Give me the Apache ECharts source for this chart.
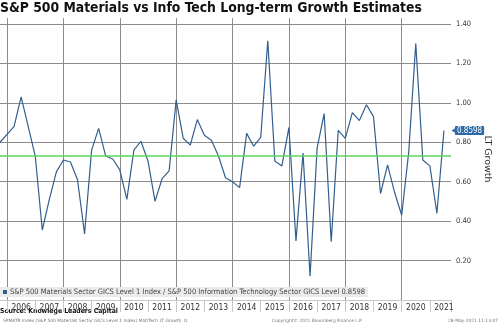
<!DOCTYPE html>
<html><head><meta charset="utf-8">
<script src="https://cdn.jsdelivr.net/npm/echarts@6/dist/echarts.min.js"></script>
<style>html,body{margin:0;padding:0;background:#fff}#c{width:500px;height:325px}</style>
</head><body><div id="c"></div>
<script>
// Quarter-end categories (last one only extends the axis)
const quarters = [
 '2005Q3','2005Q4',
 '2006Q1','2006Q2','2006Q3','2006Q4',
 '2007Q1','2007Q2','2007Q3','2007Q4',
 '2008Q1','2008Q2','2008Q3','2008Q4',
 '2009Q1','2009Q2','2009Q3','2009Q4',
 '2010Q1','2010Q2','2010Q3','2010Q4',
 '2011Q1','2011Q2','2011Q3','2011Q4',
 '2012Q1','2012Q2','2012Q3','2012Q4',
 '2013Q1','2013Q2','2013Q3','2013Q4',
 '2014Q1','2014Q2','2014Q3','2014Q4',
 '2015Q1','2015Q2','2015Q3','2015Q4',
 '2016Q1','2016Q2','2016Q3','2016Q4',
 '2017Q1','2017Q2','2017Q3','2017Q4',
 '2018Q1','2018Q2','2018Q3','2018Q4',
 '2019Q1','2019Q2','2019Q3','2019Q4',
 '2020Q1','2020Q2','2020Q3','2020Q4',
 '2021Q1','2021Q2','2021Q3'
];
// Materials / Info Tech LT growth ratio
const ratio = [
 0.80,0.84,
 0.88,1.03,0.88,0.73,
 0.355,0.51,0.65,0.71,
 0.70,0.61,0.335,0.76,
 0.87,0.73,0.715,0.66,
 0.51,0.76,0.805,0.705,
 0.50,0.615,0.655,1.015,
 0.82,0.785,0.915,0.835,
 0.81,0.73,0.62,0.60,
 0.57,0.845,0.78,0.825,
 1.315,0.705,0.68,0.875,
 0.30,0.745,0.12,0.77,
 0.945,0.295,0.86,0.82,
 0.95,0.91,0.99,0.93,
 0.54,0.685,0.545,0.43,
 0.75,1.30,0.71,0.68,
 0.44,0.8598
];
const averageLevel = 0.73;
const seriesName = 'S&P 500 Materials Sector GICS Level 1 Index / S&P 500 Information Technology Sector GICS Level';
const lastValue = ratio[ratio.length - 1];

const chart = echarts.init(document.getElementById('c'), null, {renderer: 'canvas'});
chart.setOption({
  animation: false,
  backgroundColor: '#fff',
  title: {
    text: 'S&P 500 Materials vs Info Tech Long-term Growth Estimates',
    left: 0, top: 1, padding: 0,
    textStyle: {fontFamily: 'DejaVu Sans Condensed, DejaVu Sans', fontWeight: 'bold', fontSize: 13.8, color: '#111'}
  },
  grid: {left: 0, right: 42, top: 18, bottom: 25, containLabel: false},
  legend: {
    left: 0, top: 287, padding: [1, 3, 1, 3],
    backgroundColor: '#ebebeb',
    icon: 'rect', itemWidth: 4, itemHeight: 4, itemGap: 0,
    formatter: n => n + ' ' + lastValue.toFixed(4),
    textStyle: {fontFamily: 'DejaVu Sans Condensed, DejaVu Sans', fontSize: 7.5, color: '#444', padding: [0, 0, 0, -2]}
  },
  xAxis: {
    type: 'category', data: quarters, boundaryGap: false,
    axisLine: {lineStyle: {color: '#c8c8c8'}},
    axisTick: {show: true, length: 12, interval: (i, v) => v.endsWith('Q4') || i === quarters.length - 1, lineStyle: {color: '#c8c8c8'}},
    axisLabel: {interval: (i, v) => v.endsWith('Q2'), formatter: v => v.slice(0, 4), fontFamily: 'DejaVu Sans Condensed, DejaVu Sans', fontSize: 8.5, color: '#333', margin: 3},
    splitLine: {show: true, interval: (i, v) => v.endsWith('Q4') && (+v.slice(0, 4)) % 2 === 1, lineStyle: {color: '#8c8c8c', width: 1}}
  },
  yAxis: {
    type: 'value', position: 'right', min: 0, max: 1.43, interval: 0.2,
    axisLine: {show: false}, axisTick: {show: false},
    axisLabel: {showMaxLabel: false, showMinLabel: false, formatter: v => v.toFixed(2), fontFamily: 'DejaVu Sans Condensed, DejaVu Sans', fontSize: 7.5, color: '#333', margin: 5},
    splitLine: {show: true, showMinLine: false, showMaxLine: false, lineStyle: {color: '#8c8c8c', width: 1}},
    name: 'LT Growth', nameLocation: 'middle', nameRotate: -90, nameGap: 31,
    nameTextStyle: {fontFamily: 'DejaVu Sans', fontSize: 9.5, color: '#333'}
  },
  series: [{
    name: seriesName, type: 'line', data: ratio, symbol: 'none',
    itemStyle: {color: '#2f5d8c'},
    lineStyle: {color: '#325f8e', width: 1.2},
    endLabel: {show: true, distance: 11, formatter: p => p.value.toFixed(4), backgroundColor: '#2f6aa8', color: '#fff',
      fontFamily: 'DejaVu Sans Condensed, DejaVu Sans', fontSize: 8, padding: [1, 2, 0, 2], borderRadius: 1},
    markPoint: {
      symbol: 'triangle', symbolSize: [6, 5], symbolRotate: 90, symbolOffset: [10, 0], silent: true,
      itemStyle: {color: '#2f6aa8'}, label: {show: false},
      data: [{coord: [ratio.length - 1, lastValue]}]
    },
    markLine: {
      silent: true, symbol: 'none', label: {show: false},
      lineStyle: {color: '#5cd65c', width: 1.5, type: 'solid'},
      data: [{yAxis: averageLevel}]
    }
  }],
  graphic: [
    {type: 'text', left: 0, top: 308, style: {text: 'Source: Knowlege Leaders Capital', font: 'bold 6.8px "DejaVu Sans Condensed", "DejaVu Sans"', fill: '#111'}},
    {type: 'text', left: 3, top: 319, style: {text: 'SPMATR Index (S&P 500 Materials Sector GICS Level 1 Index) Mat/Tech LT Growth  Q', font: '4.4px "DejaVu Sans"', fill: '#777'}},
    {type: 'text', left: 272, top: 319, style: {text: 'Copyright\u00a9 2021 Bloomberg Finance L.P.', font: '4.4px "DejaVu Sans"', fill: '#777'}},
    {type: 'text', right: 2, top: 319, style: {text: '28-May-2021 11:13:07', font: '4.4px "DejaVu Sans"', fill: '#777'}}
  ]
});
</script></body></html>
